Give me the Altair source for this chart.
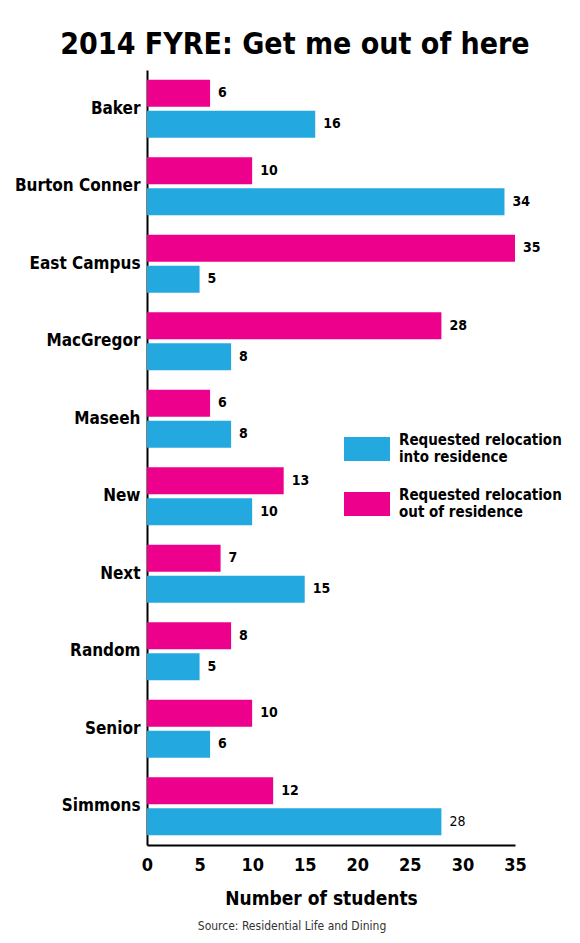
import altair as alt
import pandas as pd

# ---- data ----
residences = ["Baker", "Burton Conner", "East Campus", "MacGregor", "Maseeh",
              "New", "Next", "Random", "Senior", "Simmons"]
into_counts = [16, 34, 5, 8, 8, 10, 15, 5, 6, 28]
out_counts = [6, 10, 35, 28, 6, 13, 7, 8, 10, 12]
series_names = ["into residence", "out of residence"]
x_ticks = [0, 5, 10, 15, 20, 25, 30, 35]
chart_title = "2014 FYRE: Get me out of here"
source_note = "Source: Residential Life and Dining"

# ---- style ----
COND_FONT = "Liberation Sans Narrow, DejaVu Sans Condensed, sans-serif"
BLUE = "#23A8E0"
PINK = "#EC008C"
PLOT_W = 368
PLOT_H = 775
# wide swatch, nudged down so it sits between the two label lines
SWATCH_PATH = "M-1,-0.13H1V0.91H-1Z"

rows = []
for name, n_in, n_out in zip(residences, into_counts, out_counts):
    rows.append({"residence": name, "series": series_names[0], "students": n_in})
    rows.append({"residence": name, "series": series_names[1], "students": n_out})
df = pd.DataFrame(rows)

x_enc = alt.X(
    "students:Q",
    scale=alt.Scale(domain=[0, 35], nice=False),
    axis=alt.Axis(
        values=x_ticks, ticks=False, grid=False, labelFlush=False,
        domainColor="black", domainWidth=2,
        labelFont=COND_FONT, labelFontSize=18, labelFontWeight="bold",
        labelColor="black", labelPadding=11,
        title="Number of students", titleFont=COND_FONT, titleFontSize=19,
        titleFontWeight="bold", titleColor="black", titlePadding=15,
        titleX=174,
    ),
)
y_enc = alt.Y(
    "residence:N", sort=residences,
    scale=alt.Scale(paddingInner=0.25, paddingOuter=0.125),
    axis=alt.Axis(
        title=None, ticks=False, domainColor="black", domainWidth=2,
        labelFont=COND_FONT, labelFontSize=17, labelFontWeight="bold",
        labelColor="black", labelPadding=7, labelLimit=200,
    ),
)
y_off = alt.YOffset(
    "series:N", sort=[series_names[1], series_names[0]],
    scale=alt.Scale(paddingInner=0.13, paddingOuter=0),
)

bars = alt.Chart(df).mark_bar().encode(
    x=x_enc,
    y=y_enc,
    yOffset=y_off,
    color=alt.Color(
        "series:N",
        scale=alt.Scale(domain=series_names, range=[BLUE, PINK]),
        legend=alt.Legend(
            title=None, orient="none", legendX=197, legendY=347,
            symbolType=SWATCH_PATH, symbolSize=2116,
            symbolStrokeWidth=0, symbolOpacity=1,
            labelFont=COND_FONT, labelFontSize=15, labelFontWeight="bold",
            labelColor="black", labelOffset=9, labelLimit=300,
            labelExpr="['Requested relocation', datum.label]",
            rowPadding=7, padding=0,
        ),
    ),
)

is_plain = "datum.residence == 'Simmons' && datum.series == 'into residence'"

labels_bold = alt.Chart(df).transform_filter(f"!({is_plain})").mark_text(
    align="left", baseline="middle", dx=8, font=COND_FONT,
    fontSize=14, fontWeight="bold", color="black",
).encode(x="students:Q", y=y_enc, yOffset=y_off, text="students:Q")

labels_plain = alt.Chart(df).transform_filter(is_plain).mark_text(
    align="left", baseline="middle", dx=8, font=COND_FONT,
    fontSize=14, color="black",
).encode(x="students:Q", y=y_enc, yOffset=y_off, text="students:Q")

note = alt.Chart(pd.DataFrame({"note": [source_note]})).mark_text(
    align="center", baseline="middle", font=COND_FONT, fontSize=12, color="#333333",
).encode(text="note:N", x=alt.value(145), y=alt.value(PLOT_H + 81))

chart = alt.layer(bars, labels_bold, labels_plain, note).properties(
    width=PLOT_W,
    height=PLOT_H,
    title=alt.TitleParams(
        chart_title, font=COND_FONT, fontSize=30, fontWeight="bold",
        color="black", anchor="middle", dx=-36, offset=10,
    ),
    autosize=alt.AutoSizeParams(type="none"),
    padding={"left": 139, "top": 62, "right": 57, "bottom": 90},
).configure_view(stroke=None)

chart.save("out.html", embed_options={"renderer": "svg", "actions": False})
